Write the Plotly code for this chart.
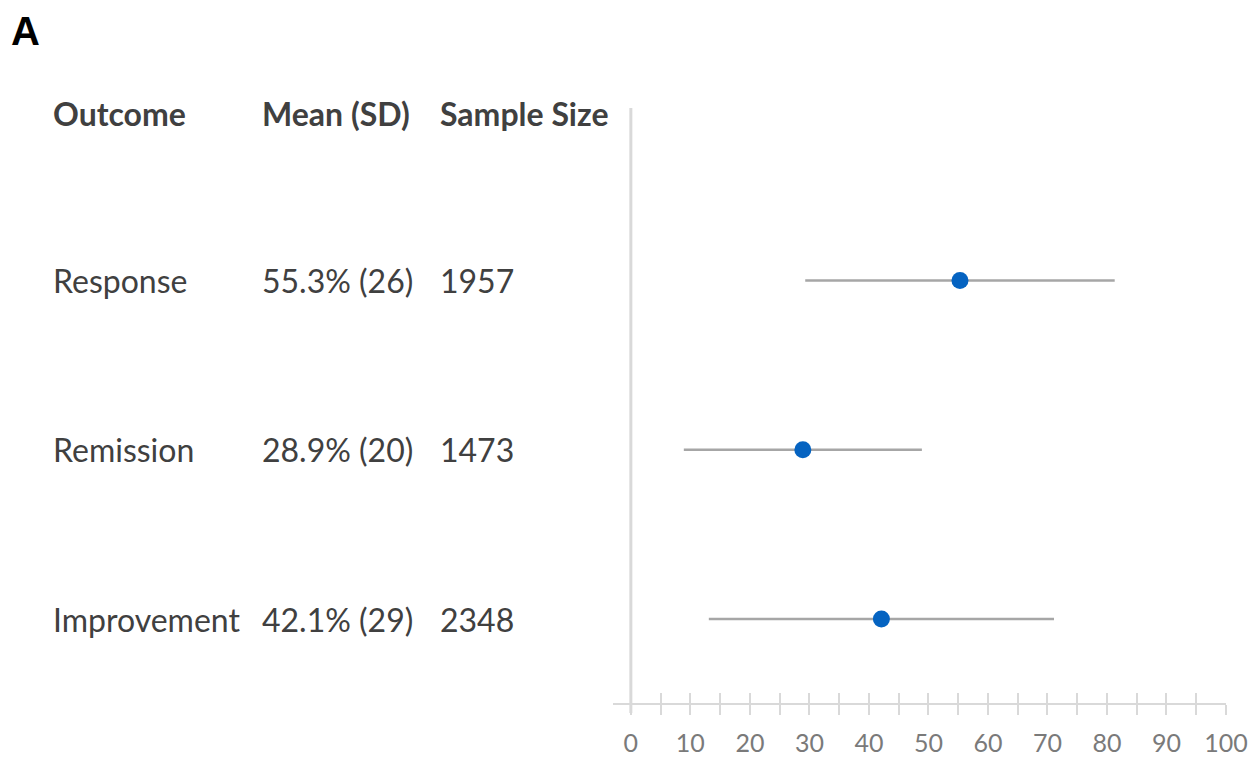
import plotly.graph_objects as go

outcomes = ["Response", "Remission", "Improvement"]
mean_labels = ["55.3% (26)", "28.9% (20)", "42.1% (29)"]
sample_sizes = ["1957", "1473", "2348"]
means = [55.3, 28.9, 42.1]
sds = [26, 20, 29]
rows = [3, 2, 1]

FONT = "Lato"
TXT = "#404040"
AX = "#d9d9d9"

fig = go.Figure()
fig.add_trace(go.Scatter(
    x=means, y=rows, mode="markers",
    marker=dict(color="#0563c1", size=17),
    error_x=dict(type="data", array=sds, visible=True, color="#a6a6a6", thickness=2.5, width=0),
    showlegend=False, hoverinfo="skip",
))
fig.add_trace(go.Scatter(x=[None], y=[None], xaxis="x2", yaxis="y", showlegend=False))

x_dom = [613/1256, 1226/1256]
y_dom = [(757-703)/757, (757-108)/757]

fig.update_layout(
    width=1256, height=757,
    margin=dict(l=0, r=0, t=0, b=0, autoexpand=False),
    paper_bgcolor="white", plot_bgcolor="white",
    xaxis=dict(domain=x_dom, range=[-3, 100], tick0=0, dtick=10, ticks="outside", ticklen=10,
               tickcolor=AX, tickwidth=1.5, showline=True, linecolor=AX, linewidth=2,
               showgrid=False, zeroline=False, ticklabelstandoff=7, automargin=False,
               minor=dict(dtick=5, tick0=0, ticks="outside", ticklen=10, tickcolor=AX, tickwidth=1.5),
               tickfont=dict(family=FONT, size=25, color="#7a7a7a"), fixedrange=True),
    xaxis2=dict(domain=x_dom, range=[-3, 100], overlaying="x", anchor="y", side="bottom",
                tick0=0, dtick=5, ticks="inside", ticklen=10, tickcolor=AX, tickwidth=1.5,
                showticklabels=False, showgrid=False, zeroline=False, showline=False,
                automargin=False, fixedrange=True),
    yaxis=dict(domain=y_dom, range=[0.504, 4.02], visible=False, fixedrange=True, automargin=False),
)

fig.add_shape(type="line", xref="x", yref="paper", x0=0, x1=0,
              y0=(757-713)/757, y1=(757-108)/757, line=dict(color=AX, width=3))

cols = [51/1256, 260/1256, 438/1256]
headers = ["Outcome", "Mean (SD)", "Sample Size"]
for cx, h in zip(cols, headers):
    fig.add_annotation(x=cx, y=(757-113)/757, xref="paper", yref="paper", text="<b>"+h+"</b>",
                       showarrow=False, xanchor="left", yanchor="middle",
                       font=dict(family=FONT, size=32, color=TXT))
for r, o, m, s in zip(rows, outcomes, mean_labels, sample_sizes):
    for cx, t in zip(cols, [o, m, s]):
        fig.add_annotation(x=cx, y=r, xref="paper", yref="y", text=t, showarrow=False,
                           xanchor="left", yanchor="middle",
                           font=dict(family=FONT, size=32, color=TXT))

fig.add_annotation(x=9/1256, y=(757-31)/757, xref="paper", yref="paper", text="<b>A</b>",
                   showarrow=False, xanchor="left", yanchor="middle",
                   font=dict(family="Liberation Sans", size=40, color="black"))

fig.write_html("out.html", config={"displayModeBar": False},
               post_script="document.body.style.margin='0';document.body.style.overflow='hidden';")
